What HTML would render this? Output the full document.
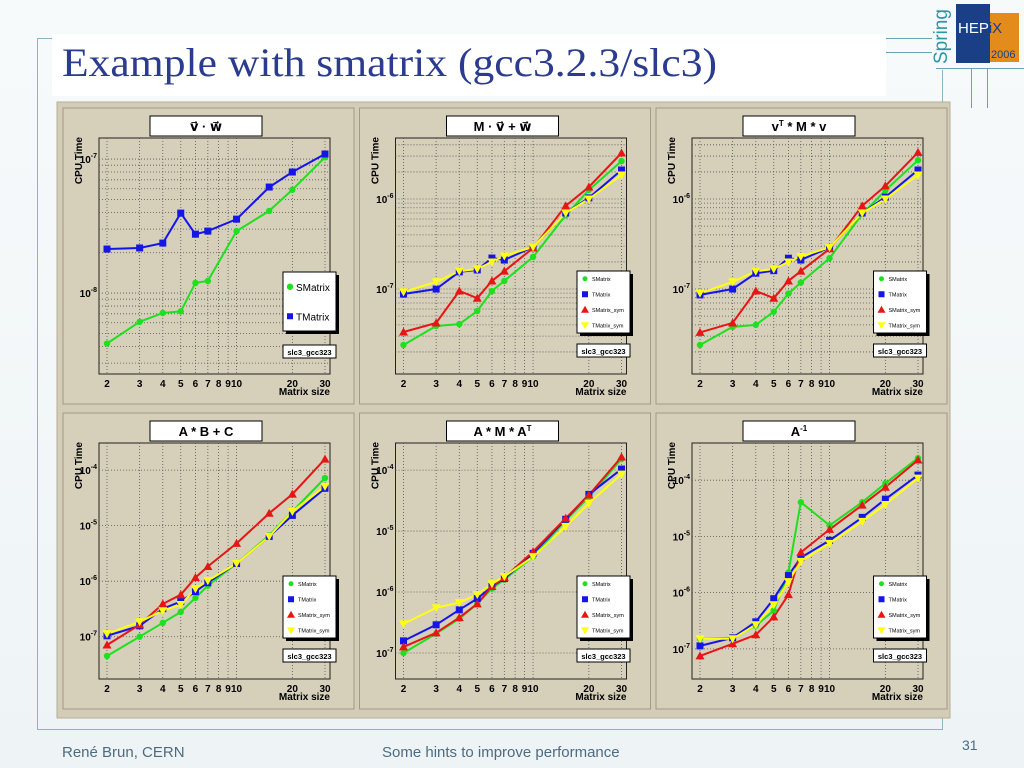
<!DOCTYPE html>
<html><head><meta charset="utf-8">
<style>
html,body{margin:0;padding:0;width:1024px;height:768px;overflow:hidden;background:#f3f7f9;font-family:"Liberation Sans",sans-serif}
.abs{position:absolute}
</style></head>
<body>
<div class="abs" style="left:0;top:0;width:1024px;height:768px;background:linear-gradient(#f7fafb,#eef4f6)"></div>
<div class="abs" style="left:37px;top:38px;width:1px;height:692px;background:#8fb3c0"></div>
<div class="abs" style="left:37px;top:38px;width:16px;height:1px;background:#8fb3c0"></div>
<div class="abs" style="left:37px;top:729px;width:905px;height:1px;background:#8fb3c0"></div>
<div class="abs" style="left:942px;top:70px;width:1px;height:660px;background:#8fb3c0"></div>
<div class="abs" style="left:52px;top:34px;width:834px;height:62px;background:#fff"></div>
<div class="abs" style="left:62px;top:39px;font-family:'Liberation Serif',serif;font-size:40px;color:#2b3c8f;white-space:nowrap;transform:scaleX(1.09);transform-origin:left top">Example with smatrix (gcc3.2.3/slc3)</div>
<div class="abs" style="left:886px;top:38px;width:46px;height:1px;background:#6aa5b3"></div>
<div class="abs" style="left:886px;top:52px;width:46px;height:1px;background:#6aa5b3"></div>
<div class="abs" style="width:64px;height:20px;transform:rotate(-90deg);transform-origin:left top;top:64px;left:932px;font-size:19px;color:#2a96a6;line-height:20px">Spring</div>
<div class="abs" style="left:990px;top:13px;width:29px;height:49px;background:#e38c1c"></div>
<div class="abs" style="left:956px;top:4px;width:34px;height:59px;background:#1a3f86"></div>
<div class="abs" style="left:958px;top:20px;font-size:15px;color:#fff;white-space:nowrap">HEP<span style="color:#1a3f86">iX</span></div>
<div class="abs" style="left:991px;top:49px;font-size:11px;color:#1a3f86">2006</div>
<div class="abs" style="left:971px;top:68px;width:1px;height:40px;background:#6aa5b3"></div>
<div class="abs" style="left:987px;top:68px;width:1px;height:40px;background:#6aa5b3"></div>
<div class="abs" style="left:936px;top:68px;width:88px;height:1px;background:#6aa5b3"></div>
<div class="abs" style="left:62px;top:744px;font-size:15px;color:#4d6b80">René Brun, CERN</div>
<div class="abs" style="left:382px;top:744px;font-size:15px;color:#4d6b80">Some hints to improve performance</div>
<div class="abs" style="left:962px;top:737px;font-size:14px;color:#4d6b80">31</div>
<svg id="chart" class="abs" style="left:0;top:0" width="1024" height="768" xmlns="http://www.w3.org/2000/svg"></svg>
<script>
const sizes=[2,3,4,5,6,7,10,15,20,30];
const xTickLabels=["2","3","4","5","6","7","8","9","10","20","30"];
const seriesNames=["SMatrix","TMatrix","SMatrix_sym","TMatrix_sym"];
const panelTitles=["v·w","M·v+w","vT*M*v","A*B+C","A*M*AT","A-1"];
// panel 1
const p1S=[4.2e-9,6.1e-9,7.1e-9,7.3e-9,1.19e-8,1.23e-8,2.9e-8,4.1e-8,5.9e-8,1.03e-7];
const p1T=[2.13e-8,2.17e-8,2.36e-8,3.95e-8,2.75e-8,2.9e-8,3.56e-8,6.18e-8,8.0e-8,1.09e-7];
// panel 2
const p2S=[2.39e-8,3.88e-8,4.08e-8,5.7e-8,9.5e-8,1.23e-7,2.27e-7,6.6e-7,1.26e-6,2.64e-6];
const p2T=[8.8e-8,1.0e-7,1.55e-7,1.63e-7,2.21e-7,2.1e-7,2.93e-7,7.0e-7,1.03e-6,2.1e-6];
const p2R=[3.33e-8,4.19e-8,9.5e-8,7.9e-8,1.23e-7,1.58e-7,2.86e-7,8.4e-7,1.36e-6,3.25e-6];
const p2Y=[9.3e-8,1.2e-7,1.58e-7,1.67e-7,2.0e-7,2.33e-7,2.93e-7,7.0e-7,1.0e-6,1.85e-6];
// panel 3
const p3S=[2.39e-8,3.8e-8,4.0e-8,5.6e-8,8.9e-8,1.18e-7,2.2e-7,6.8e-7,1.25e-6,2.7e-6];
const p3T=[8.6e-8,1.0e-7,1.5e-7,1.6e-7,2.2e-7,2.1e-7,2.9e-7,7.0e-7,1.05e-6,2.1e-6];
const p3R=[3.3e-8,4.2e-8,9.5e-8,7.9e-8,1.23e-7,1.58e-7,2.8e-7,8.4e-7,1.4e-6,3.3e-6];
const p3Y=[9.0e-8,1.2e-7,1.58e-7,1.67e-7,2.0e-7,2.3e-7,2.9e-7,7.0e-7,1.0e-6,1.85e-6];
// panel 4
const p4S=[4.5e-8,1.0e-7,1.78e-7,2.8e-7,5.0e-7,8.3e-7,2.08e-6,6.7e-6,1.8e-5,7.2e-5];
const p4T=[1.04e-7,1.57e-7,3.2e-7,4.3e-7,6.5e-7,9.4e-7,2.08e-6,6.4e-6,1.53e-5,4.7e-5];
const p4R=[7.1e-8,1.64e-7,3.9e-7,5.7e-7,1.16e-6,1.84e-6,4.8e-6,1.67e-5,3.7e-5,1.58e-4];
const p4Y=[1.13e-7,1.86e-7,2.94e-7,3.8e-7,7.3e-7,1.02e-6,2.08e-6,6.4e-6,1.8e-5,5.1e-5];
// panel 5
const p5S=[1.0e-7,2.07e-7,3.65e-7,6.4e-7,1.14e-6,1.6e-6,3.8e-6,1.5e-5,3.6e-5,1.52e-4];
const p5T=[1.58e-7,2.9e-7,5.1e-7,7.8e-7,1.23e-6,1.66e-6,4.3e-6,1.56e-5,4.0e-5,1.04e-4];
const p5R=[1.26e-7,2.14e-7,3.8e-7,6.4e-7,1.23e-6,1.73e-6,4.6e-6,1.62e-5,3.9e-5,1.64e-4];
const p5Y=[3.0e-7,5.5e-7,6.7e-7,9.1e-7,1.37e-6,1.8e-6,3.8e-6,1.19e-5,2.86e-5,8.6e-5];
// panel 6
const p6S=[1.51e-7,1.57e-7,2.58e-7,4.8e-7,2.28e-6,4.05e-5,1.57e-5,4.05e-5,8.8e-5,2.47e-4];
const p6T=[1.13e-7,1.57e-7,3.03e-7,7.8e-7,2.01e-6,4.2e-6,8.5e-6,2.18e-5,4.6e-5,1.23e-4];
const p6R=[7.5e-8,1.23e-7,1.78e-7,3.7e-7,9.2e-7,5.2e-6,1.33e-5,3.6e-5,7.5e-5,2.28e-4];
const p6Y=[1.51e-7,1.51e-7,2.68e-7,6.1e-7,1.57e-6,3.6e-6,7.5e-6,1.85e-5,3.7e-5,1.09e-4];

const panelSeries=[[p1S,p1T],[p2S,p2T,p2R,p2Y],[p3S,p3T,p3R,p3Y],[p4S,p4T,p4R,p4Y],[p5S,p5T,p5R,p5Y],[p6S,p6T,p6R,p6Y]];
const yTickExps=[[-7,-8],[-6,-7],[-6,-7],[-4,-5,-6,-7],[-4,-5,-6,-7],[-4,-5,-6,-7]];
const yLogTop=[-6.843,-5.322,-5.322,-3.512,-3.555,-3.339];
const yLogBot=[-8.604,-7.944,-7.944,-7.761,-7.427,-7.536];

const NS="http://www.w3.org/2000/svg";
const svg=document.getElementById('chart');
function mk(tag,attrs,parent){const e=document.createElementNS(NS,tag);for(const k in attrs)e.setAttribute(k,attrs[k]);(parent||svg).appendChild(e);return e;}
const colors=["#1fe01f","#1515e8","#e81515","#ffff10"];
const lg=Math.log10;

let bg=mk('rect',{x:57,y:102,width:893,height:616,fill:'#d3ccb6',stroke:'#b5ae98'});



for(let p=0;p<6;p++){
  const col=p%3,row=Math.floor(p/3);
  const ox=col*296.5, oy=row?305:0;
  const g=mk('g',{});
  
  
  const pad=mk('rect',{x:63+ox,y:108+oy,width:291,height:296,fill:'#d6cfba',stroke:'#a19a85'},g);
  
  
  const L=99+ox,R=330+ox,T=138+oy,B=374+oy;
  const X=v=>107+ox+(lg(v)-lg(2))/(lg(30)-lg(2))*218;
  const Y=v=>T+(yLogTop[p]-lg(v))/(yLogTop[p]-yLogBot[p])*(B-T);
  const fr=mk('rect',{x:L,y:T,width:R-L,height:B-T,fill:'#d6cfba',stroke:'#222','stroke-width':1},g);
  
  
  xTickLabels.forEach(s=>{
    const v=+s, x=X(v);
    const gl=mk('line',{x1:x,x2:x,y1:T,y2:B,stroke:'#555','stroke-dasharray':'1,2','stroke-width':0.8},g);
    
    
    const t=mk('text',{x:x,y:B+13,'font-size':10,'font-weight':'bold','text-anchor':'middle',fill:'#000'},g);
    t.textContent=s;
    
    
  });
  const eTop=Math.ceil(yLogTop[p]),eBot=Math.floor(yLogBot[p]);
  for(let e=eBot;e<=eTop;e++){
    for(let m=1;m<10;m++){
      const v=m*Math.pow(10,e);
      if(lg(v)>yLogTop[p]||lg(v)<yLogBot[p])continue;
      if(row===1&&m!==1)continue;
      const y=Y(v);
      const gl=mk('line',{x1:L,x2:R,y1:y,y2:y,stroke:'#555','stroke-dasharray':'1,2','stroke-width':0.8},g);
      
      
    }
  }
  yTickExps[p].forEach(e=>{
    const y=Y(Math.pow(10,e));
    const t=mk('text',{x:L-2,y:y+4,'font-size':10,'font-weight':'bold','text-anchor':'end',fill:'#000'},g);
    t.innerHTML='10<tspan font-size="7" dy="-5">'+e+'</tspan>';
    
    
  });
  const yt=mk('text',{x:0,y:0,'font-size':10,'font-weight':'bold','text-anchor':'end',fill:'#000',transform:`translate(${82+ox},${137+oy}) rotate(-90)`},g);
  yt.textContent='CPU Time';
  
  
  const xt=mk('text',{x:R,y:B+21,'font-size':10,'font-weight':'bold','text-anchor':'end',fill:'#000'},g);
  xt.textContent='Matrix size';
  
  
  const tb=mk('rect',{x:150+ox,y:116+oy,width:112,height:20,fill:'#fff',stroke:'#000'},g);
  
  
  const tt=mk('text',{x:206+ox,y:131+oy,'font-size':13,'font-weight':'bold','text-anchor':'middle',fill:'#000'},g);
  const titles=['v&#8407; · w&#8407;','M · v&#8407; + w&#8407;','v<tspan font-size="8" dy="-5">T</tspan><tspan dy="5"> * M * v</tspan>','A * B + C','A * M * A<tspan font-size="8" dy="-5">T</tspan>','A<tspan font-size="8" dy="-5">-1</tspan>'];
  tt.innerHTML=titles[p];
  
  
  panelSeries[p].forEach((arr,si)=>{
    const pts=arr.map((v,i)=>X(sizes[i]).toFixed(1)+','+Y(v).toFixed(1)).join(' ');
    const pl=mk('polyline',{points:pts,fill:'none',stroke:colors[si],'stroke-width':2},g);
    
    
  });
  panelSeries[p].forEach((arr,si)=>{
    arr.forEach((v,i)=>{
      const x=X(sizes[i]),y=Y(v);let m;
      if(si===0)m=mk('circle',{cx:x,cy:y,r:3.2,fill:colors[0]},g);
      else if(si===1)m=mk('rect',{x:x-3.5,y:y-3.5,width:7,height:7,fill:colors[1]},g);
      else if(si===2)m=mk('polygon',{points:`${x},${y-4.5} ${x-4.5},${y+3.5} ${x+4.5},${y+3.5}`,fill:colors[2]},g);
      else m=mk('polygon',{points:`${x},${y+4.5} ${x-4.5},${y-3.5} ${x+4.5},${y-3.5}`,fill:colors[3]},g);
      
      
    });
  });
  const LX=col===0?283:577+(col-1)*296.5;
  const LY=p===0?272:271+oy;
  const LH=p===0?59:62;
  const sh=mk('rect',{x:LX+3,y:LY+3,width:53,height:LH,fill:'#000'},g);
  
  
  const lb=mk('rect',{x:LX,y:LY,width:53,height:LH,fill:'#fff',stroke:'#000'},g);
  
  
  const n=panelSeries[p].length;
  for(let si=0;si<n;si++){
    const ey=LY+LH*(si+0.5)/n;const mx=LX+(p===0?7:8);let m;
    if(si===0)m=mk('circle',{cx:mx,cy:ey,r:p===0?3.2:2.5,fill:colors[0]},g);
    else if(si===1)m=mk('rect',{x:mx-3,y:ey-3,width:6,height:6,fill:colors[1]},g);
    else if(si===2)m=mk('polygon',{points:`${mx},${ey-4} ${mx-4},${ey+3} ${mx+4},${ey+3}`,fill:colors[2]},g);
    else m=mk('polygon',{points:`${mx},${ey+4} ${mx-4},${ey-3} ${mx+4},${ey-3}`,fill:colors[3]},g);
    
    
    const t=mk('text',{x:mx+(p===0?6:7),y:ey+(p===0?4:2),'font-size':p===0?10:5.5,fill:'#000'},g);
    t.textContent=seriesNames[si];
    
    
  }
  const sb=mk('rect',{x:LX,y:(p===0?345:344+oy),width:53,height:13,fill:'#fff',stroke:'#000'},g);
  
  
  const st=mk('text',{x:LX+26.5,y:(p===0?355:354+oy),'font-size':7.5,'font-weight':'bold','text-anchor':'middle',fill:'#000'},g);
  st.textContent='slc3_gcc323';
  
  
}
</script>
</body></html>
